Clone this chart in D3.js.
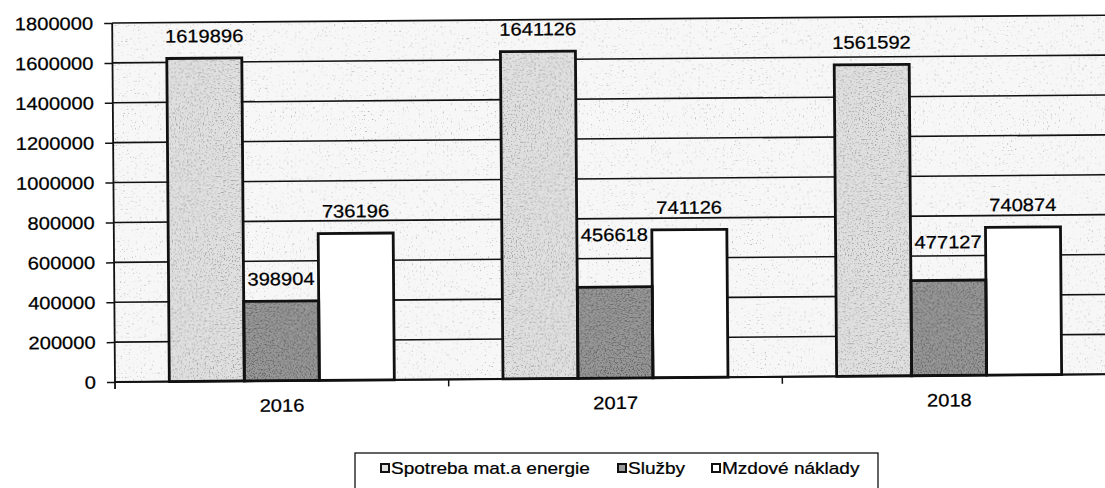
<!DOCTYPE html>
<html>
<head>
<meta charset="utf-8">
<script src="https://cdn.jsdelivr.net/npm/d3@7"></script>
<style>
  html, body { margin: 0; padding: 0; background: #fff; }
  svg { display: block; }
  text { font-family: Arial, "Liberation Sans", sans-serif; fill: #000; stroke: #000; stroke-width: 0.25px; }
</style>
</head>
<body>
<script>
'use strict';

// chart data
const years = ['2016', '2017', '2018'];
const seriesNames = ['Spotreba mat.a energie', 'Služby', 'Mzdové náklady'];
const spotreba = [1619896, 1641126, 1561592];
const sluzby = [398904, 456618, 477127];
const mzdove = [736196, 741126, 740874];
const yTicks = [0, 200000, 400000, 600000, 800000, 1000000, 1200000, 1400000, 1600000, 1800000];

(function() {

  const width = 1105, height = 488;
  const plot = {left: 115, right: 1116, top: 23, bottom: 382};
  const groupWidth = 225;
  const stretch = 1.12;   // the scan is a bit wider than tall

  // Excel moved a couple of labels up by hand
  const labelLift = {'Služby-2017': 30, 'Služby-2018': 16};

  const seriesValues = [spotreba, sluzby, mzdove];
  const rows = [];
  years.forEach((yr, i) => {
    seriesNames.forEach((s, j) => {
      rows.push({year: yr, series: s, value: seriesValues[j][i]});
    });
  });

  const svg = d3.select('body').append('svg')
    .attr('width', width)
    .attr('height', height);

  svg.append('rect').attr('width', width).attr('height', height).attr('fill', '#fff');

  // speckle texture filters (scanned hatch look)
  const defs = svg.append('defs');
  function speckle(id, seed, k, c, tone) {
    const f = defs.append('filter').attr('id', id)
      .attr('x', 0).attr('y', 0).attr('width', 1).attr('height', 1);
    f.append('feTurbulence')
      .attr('type', 'fractalNoise')
      .attr('baseFrequency', 0.75)
      .attr('numOctaves', 1)
      .attr('seed', seed)
      .attr('result', 'noise');
    f.append('feColorMatrix')
      .attr('in', 'noise')
      .attr('type', 'matrix')
      .attr('values', `0 0 0 0 ${tone}  0 0 0 0 ${tone}  0 0 0 0 ${tone}  ${k} 0 0 0 ${-c}`)
      .attr('result', 'dots');
    f.append('feComposite')
      .attr('in', 'dots').attr('in2', 'SourceAlpha')
      .attr('operator', 'in').attr('result', 'clipped');
    const m = f.append('feMerge');
    m.append('feMergeNode').attr('in', 'SourceGraphic');
    m.append('feMergeNode').attr('in', 'clipped');
  }
  speckle('bgDots', 3, 9, 5.9, 0.45);
  speckle('lightDots', 5, 7, 3.9, 0.35);
  speckle('darkDots', 7, 6, 2.9, 0.12);

  const colors = {
    'Spotreba mat.a energie': {fill: '#e0e0e0', filter: 'url(#lightDots)'},
    'Služby': {fill: '#9a9a9a', filter: 'url(#darkDots)'},
    'Mzdové náklady': {fill: '#ffffff', filter: null}
  };

  // whole chart sits slightly tilted, like the scan
  const g = svg.append('g')
    .attr('transform', `rotate(-0.45, ${plot.left}, ${plot.bottom})`);

  const x = d3.scaleBand()
    .domain(years)
    .range([plot.left, plot.right]);

  const xs = d3.scaleBand()
    .domain(seriesNames)
    .range([0, groupWidth]);

  const y = d3.scaleLinear()
    .domain([0, 1800000])
    .range([plot.bottom, plot.top]);

  const groupStart = (yr) => x(yr) + (x.bandwidth() - groupWidth) / 2;

  function addText(sel, tx, ty, str, anchor, size) {
    return sel.append('text')
      .attr('transform', `translate(${tx},${ty}) scale(${stretch},1)`)
      .attr('text-anchor', anchor)
      .style('font-size', size + 'px')
      .text(str);
  }

  // plot background
  g.append('rect')
    .attr('x', plot.left)
    .attr('y', plot.top)
    .attr('width', plot.right - plot.left)
    .attr('height', plot.bottom - plot.top)
    .attr('fill', '#f7f7f7')
    .attr('filter', 'url(#bgDots)');

  // gridlines + y axis
  const yAxis = d3.axisLeft(y)
    .tickValues(yTicks)
    .tickSize(8)
    .tickFormat('');
  const ya = g.append('g')
    .attr('transform', `translate(${plot.left},0)`)
    .call(yAxis);
  ya.select('.domain').remove();
  ya.selectAll('.tick line').attr('stroke', '#111').attr('stroke-width', 1.5);

  g.append('g')
    .selectAll('line')
    .data(yTicks)
    .enter()
    .append('line')
      .attr('x1', plot.left)
      .attr('x2', plot.right)
      .attr('y1', (d) => y(d))
      .attr('y2', (d) => y(d))
      .attr('stroke', '#111')
      .attr('stroke-width', 1.6);

  yTicks.forEach((t) => {
    addText(g, plot.left - 19, y(t) + 6.5, String(t), 'end', 18);
  });

  // bars: textured fill, then a crisp outline on top
  const barX = (d) => groupStart(d.year) + xs(d.series);

  g.append('g')
    .selectAll('rect')
    .data(rows)
    .enter()
    .append('rect')
      .attr('x', barX)
      .attr('y', (d) => y(d.value))
      .attr('width', xs.bandwidth())
      .attr('height', (d) => y(0) - y(d.value))
      .attr('fill', (d) => colors[d.series].fill)
      .attr('filter', (d) => colors[d.series].filter);

  g.append('g')
    .selectAll('rect')
    .data(rows)
    .enter()
    .append('rect')
      .attr('x', barX)
      .attr('y', (d) => y(d.value))
      .attr('width', xs.bandwidth())
      .attr('height', (d) => y(0) - y(d.value))
      .attr('fill', 'none')
      .attr('stroke', '#111')
      .attr('stroke-width', 2.8);

  // value labels
  rows.forEach((d) => {
    const lift = labelLift[d.series + '-' + d.year] || 0;
    addText(g, barX(d) + xs.bandwidth() / 2,
      y(d.value) - 16 - lift, String(d.value), 'middle', 18);
  });

  // x axis line and category ticks
  g.append('line')
    .attr('x1', plot.left).attr('x2', plot.right)
    .attr('y1', plot.bottom).attr('y2', plot.bottom)
    .attr('stroke', '#111').attr('stroke-width', 2);
  g.append('line')
    .attr('x1', plot.left).attr('x2', plot.left)
    .attr('y1', plot.top).attr('y2', plot.bottom + 7)
    .attr('stroke', '#111').attr('stroke-width', 1.8);

  g.append('g')
    .selectAll('line')
    .data(years.slice(1))
    .enter()
    .append('line')
      .attr('x1', (d) => x(d))
      .attr('x2', (d) => x(d))
      .attr('y1', plot.bottom)
      .attr('y2', plot.bottom + 7)
      .attr('stroke', '#111')
      .attr('stroke-width', 1.5);

  years.forEach((yr) => {
    addText(g, x(yr) + x.bandwidth() / 2, plot.bottom + 31, yr, 'middle', 18);
  });

  // legend
  const legend = svg.append('g');
  legend.append('rect')
    .attr('x', 355).attr('y', 453)
    .attr('width', 523).attr('height', 60)
    .attr('fill', '#fff')
    .attr('stroke', '#111')
    .attr('stroke-width', 1.3);

  const legendX = [381, 618, 712];
  seriesNames.forEach((s, i) => {
    legend.append('rect')
      .attr('x', legendX[i]).attr('y', 464)
      .attr('width', 8).attr('height', 8)
      .attr('fill', colors[s].fill)
      .attr('stroke', '#111')
      .attr('stroke-width', 2);
    addText(legend, legendX[i] + 10, 474, s, 'start', 17);
  });

})();
</script>
</body>
</html>
